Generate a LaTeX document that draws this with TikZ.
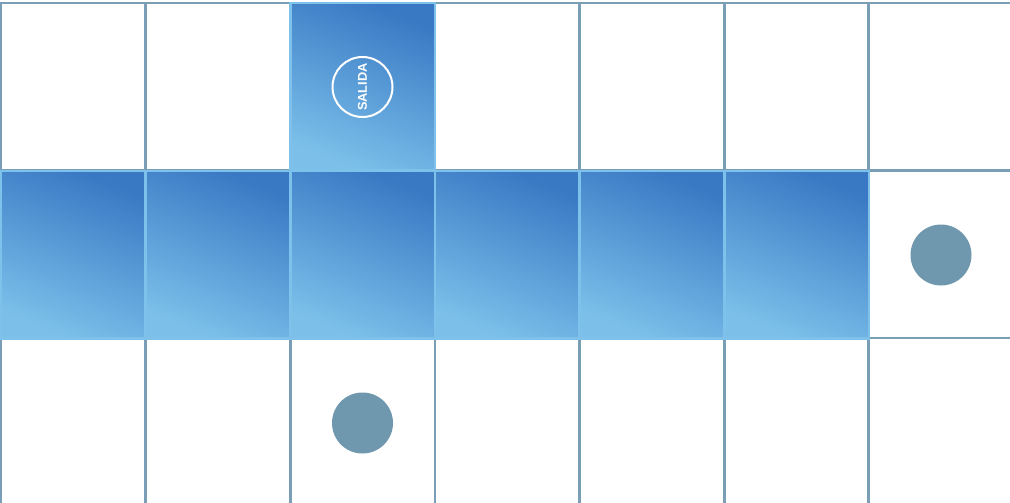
\documentclass[tikz,border=0pt]{standalone}
\usepackage{fontspec}
\setsansfont{Liberation Sans}
\definecolor{gridc}{HTML}{7A9EB6}
\definecolor{dotc}{HTML}{6F97AD}
\definecolor{bdark}{HTML}{3979C4}
\definecolor{bmid}{HTML}{66AEE2}
\definecolor{blight}{HTML}{7CC0EA}
\definecolor{bedge}{HTML}{7EC2EC}
\begin{document}
\begin{tikzpicture}[x=0.75pt,y=-0.75pt,
  cell/.style={rectangle,anchor=north west,inner sep=0pt,outer sep=0pt,
    minimum width=144.5*0.75pt,minimum height=167.5*0.75pt,
    draw=gridc,line width=2.2*0.75pt,fill=white},
  bluecell/.style={cell,draw=bedge,top color=bdark,middle color=bmid,bottom color=blight,shading angle=-22},
  dot/.style={circle,fill=dotc,inner sep=0pt,minimum size=61*0.75pt},
  exitring/.style={circle,draw=white,line width=2*0.75pt,inner sep=0pt,minimum size=60*0.75pt}]
\useasboundingbox (0,0) rectangle (1010,503);
% white cells
\foreach \r/\y in {1/3,2/171,3/338}{
  \foreach \c/\x in {1/1,2/146,3/290.5,4/435,5/580,6/724.5,7/868.5}{
    \node[cell] (c\r\c) at (\x,\y) {};
  }
}
% blue cells
\node[bluecell] (b13) at (290.5,3) {};
\foreach \c/\x in {1/1,2/146,3/290.5,4/435,5/580,6/724.5}{
  \node[bluecell] (b2\c) at (\x,171) {};
}
% SALIDA marker
\node[exitring] (salida) at (362.5,87) {};
\node[rotate=90,text=white,font=\sffamily\bfseries\fontsize{9.6}{10}\selectfont,inner sep=0pt] (salidatxt) at (salida.center) {SALIDA};
% dots
\node[dot] (d1) at (941,255) {};
\node[dot] (d2) at (362.5,423) {};
\end{tikzpicture}
\end{document}
